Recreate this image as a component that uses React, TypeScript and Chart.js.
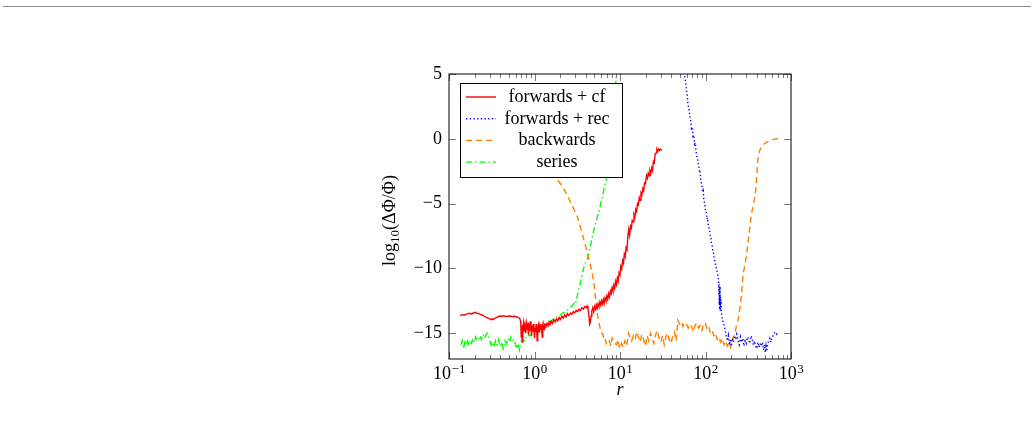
import React, { useEffect, useRef } from "react";
import { Chart, registerables } from "chart.js";

Chart.register(...registerables);

const SERIF = "'Liberation Serif', 'DejaVu Serif', serif";

// Axis ticks
const xTickValues = [0.1, 1, 10, 100, 1000];
const xTickExponents = ["\u22121", "0", "1", "2", "3"];
const yTickValues = [-15, -10, -5, 0, 5];

const seriesLabels = ["forwards + cf", "forwards + rec", "backwards", "series"];

type Pt = [number, number];

// forwards + cf : [r, log10 error]
const forwardsCf: Pt[] = [
  [0.135, -13.65], [0.142, -13.58], [0.15, -13.62], [0.158, -13.55], [0.166, -13.5], [0.175, -13.47],
  [0.184, -13.52], [0.193, -13.45], [0.203, -13.4], [0.213, -13.48], [0.224, -13.5], [0.235, -13.58],
  [0.247, -13.62], [0.26, -13.7], [0.273, -13.78], [0.287, -13.85], [0.3, -13.9], [0.31, -13.98],
  [0.32, -13.88], [0.33, -13.95], [0.345, -13.84], [0.36, -13.8], [0.38, -13.72], [0.4, -13.68],
  [0.42, -13.7], [0.44, -13.66], [0.46, -13.72], [0.49, -13.7], [0.52, -13.68], [0.55, -13.73],
  [0.58, -13.7], [0.61, -13.74], [0.64, -13.78], [0.67, -13.85], [0.69, -14.1], [0.7, -15.3],
  [0.71, -14.4], [0.72, -15.7], [0.73, -14.6], [0.745, -14.2], [0.76, -14.9], [0.775, -14.4],
  [0.79, -15.0], [0.805, -14.3], [0.82, -14.7], [0.835, -14.2], [0.85, -15.1], [0.865, -14.5],
  [0.88, -14.8], [0.895, -14.1], [0.91, -14.6], [0.925, -15.2], [0.94, -14.4], [0.955, -14.9],
  [0.97, -14.3], [0.985, -14.7], [1.0, -15.4], [1.015, -14.6], [1.03, -14.9], [1.045, -14.3],
  [1.06, -14.8], [1.075, -15.6], [1.09, -14.7], [1.11, -14.4], [1.13, -14.9], [1.15, -14.5],
  [1.17, -14.7], [1.19, -14.3], [1.21, -14.6], [1.23, -15.3], [1.25, -14.5], [1.27, -14.7],
  [1.29, -14.4], [1.31, -14.6], [1.33, -14.35], [1.36, -14.45], [1.4, -14.25], [1.44, -14.45],
  [1.48, -14.15], [1.52, -14.35], [1.57, -14.1], [1.62, -14.25], [1.68, -13.95], [1.74, -14.15],
  [1.8, -13.9], [1.87, -14.05], [1.94, -13.8], [2.01, -13.95], [2.09, -13.7], [2.17, -13.85],
  [2.25, -13.6], [2.34, -13.75], [2.43, -13.5], [2.53, -13.65], [2.63, -13.45], [2.73, -13.55],
  [2.84, -13.35], [2.95, -13.45], [3.07, -13.25], [3.19, -13.35], [3.32, -13.15], [3.45, -13.25],
  [3.58, -13.05], [3.72, -13.15], [3.86, -12.95], [4.0, -13.05], [4.12, -12.9], [4.22, -13.15],
  [4.32, -13.6], [4.42, -14.3], [4.5, -14.15], [4.58, -13.7], [4.68, -13.3], [4.8, -13.05],
  [4.92, -13.35], [5.04, -12.95], [5.16, -13.15], [5.28, -12.85], [5.4, -13.1], [5.53, -12.75],
  [5.66, -12.95], [5.8, -12.6], [5.94, -12.85], [6.08, -12.5], [6.23, -12.75], [6.38, -12.4],
  [6.53, -12.7], [6.69, -12.3], [6.85, -12.5], [7.01, -12.15], [7.18, -12.4], [7.35, -11.95],
  [7.53, -12.2], [7.71, -11.75], [7.89, -11.95], [8.08, -11.5], [8.27, -11.75], [8.47, -11.3],
  [8.67, -11.55], [8.88, -11.0], [9.09, -11.25], [9.31, -10.75], [9.53, -11.0], [9.76, -10.35],
  [9.99, -10.5], [10.23, -9.85], [10.47, -10.05], [10.72, -9.4], [10.98, -9.6], [11.24, -8.9],
  [11.51, -9.1], [11.78, -8.4], [12.06, -8.55], [12.35, -7.5], [12.65, -7.0], [12.95, -7.45],
  [13.26, -6.75], [13.58, -6.9], [13.9, -6.3], [14.23, -6.4], [14.57, -5.85], [14.92, -6.05],
  [15.28, -5.45], [15.65, -5.6], [16.02, -5.0], [16.4, -5.1], [16.8, -4.55], [17.2, -4.75],
  [17.6, -4.2], [18.0, -4.35], [18.5, -3.85], [18.9, -4.0], [19.4, -3.4], [19.9, -3.45],
  [20.4, -2.85], [20.9, -3.05], [21.4, -2.65], [21.9, -2.85], [22.4, -2.45], [22.9, -2.65],
  [23.5, -2.25], [24.0, -2.45], [24.6, -1.75], [25.2, -1.85], [25.8, -1.15], [26.4, -1.1],
  [27.0, -0.8], [27.7, -0.95], [28.3, -0.8], [29.0, -0.9], [29.7, -0.8], [30.4, -0.85], [31.0, -0.85],
];

// forwards + rec
const forwardsRec: Pt[] = [
  [55, 5.4], [57, 4.9], [59, 4.2], [61, 3.4], [62.5, 2.6], [64, 2.4], [65.5, 1.7], [67, 1.5],
  [68.5, 0.8], [70, 0.9], [71.5, 0.2], [73, 0.3], [74.5, -0.4], [76, -0.3], [77.5, -1.0], [79, -1.3],
  [80.5, -1.5], [82, -1.9], [83.5, -2.0], [85, -2.6], [86.5, -2.5], [88, -3.2], [89.5, -3.4],
  [91, -3.6], [92.5, -4.1], [94, -4.0], [95.5, -4.7], [97, -4.9], [98.5, -5.2], [100, -5.6],
  [102, -5.6], [104, -6.2], [106, -6.1], [108, -6.8], [110, -6.9], [112, -7.1], [114, -7.6],
  [116, -7.7], [118, -8.2], [120, -8.3], [122, -8.7], [124, -8.8], [126, -9.2], [128, -9.4],
  [130, -9.6], [132, -9.9], [134, -10.0], [137, -10.3], [139, -10.5], [141, -10.7], [143, -11.4],
  [144, -12.0], [144.5, -11.2], [145, -12.8], [145.5, -11.6], [146, -13.2], [146.5, -11.9],
  [147, -12.6], [148, -11.4], [149, -13.3], [150, -12.2], [151, -13.0], [152, -12.4], [154, -13.5],
  [157, -13.9], [160, -14.1], [164, -14.3], [168, -14.6], [172, -15.0], [176, -15.3], [180, -15.6],
  [185, -15.2], [190, -15.9], [195, -15.5], [200, -16.0], [206, -15.4], [212, -15.7], [218, -15.2],
  [225, -15.5], [232, -15.1], [240, -15.6], [248, -15.9], [256, -15.3], [264, -15.7], [273, -15.4],
  [282, -16.0], [291, -15.6], [300, -15.8], [310, -15.3], [320, -15.5], [330, -15.8], [340, -15.2],
  [351, -15.4], [362, -15.9], [373, -15.6], [385, -16.0], [397, -16.2], [410, -15.7], [423, -16.1],
  [436, -15.8], [450, -16.0], [464, -15.7], [478, -16.3], [490, -15.9], [500, -16.5], [510, -16.0],
  [520, -16.4], [535, -15.8], [550, -15.6], [565, -15.4], [580, -15.7], [600, -15.3], [620, -15.2],
  [640, -15.0], [660, -14.9], [685, -15.1], [711, -14.95],
];

// backwards
const backwards: Pt[] = [
  [0.9, 0.0], [1.1, -0.6], [1.3, -1.3], [1.5, -2.0], [1.74, -2.9], [2.0, -3.45], [2.3, -4.1],
  [2.6, -4.8], [2.85, -5.35], [3.1, -5.85], [3.35, -6.5], [3.57, -7.2], [3.8, -7.85], [4.0, -8.4],
  [4.25, -9.1], [4.5, -9.75], [4.7, -10.3], [4.9, -10.95], [5.1, -11.9], [5.3, -12.9], [5.55, -13.9],
  [5.8, -14.5], [6.0, -14.9], [6.3, -15.1], [6.5, -15.5], [6.7, -15.4], [6.9, -15.8], [7.2, -15.5],
  [7.5, -15.6], [7.8, -16.0], [8.1, -15.4], [8.4, -15.7], [8.8, -15.8], [9.1, -15.9], [9.5, -15.5],
  [9.9, -16.2], [10.4, -15.8], [10.9, -16.1], [11.4, -15.6], [12.0, -16.0], [12.6, -15.0],
  [13.1, -15.3], [13.7, -15.6], [14.3, -15.2], [15.0, -15.5], [15.7, -14.9], [16.4, -15.3],
  [17.2, -15.7], [18.0, -15.1], [18.9, -15.5], [19.8, -16.0], [20.7, -15.2], [21.7, -15.6],
  [22.7, -15.0], [23.8, -15.4], [24.9, -15.8], [26.1, -15.1], [27.3, -14.8], [28.6, -15.4],
  [30.0, -15.7], [31.4, -15.2], [32.9, -15.9], [34.4, -15.3], [36.0, -15.0], [37.7, -15.5],
  [39.5, -15.8], [41.4, -15.2], [43.3, -14.9], [45.4, -15.6], [47.5, -14.0], [49.8, -14.3],
  [52.1, -14.1], [54.6, -14.5], [57.2, -14.2], [59.9, -14.3], [62.7, -14.6], [65.7, -14.3],
  [68.8, -14.5], [72.0, -14.9], [75.4, -14.4], [79.0, -14.2], [82.7, -14.6], [86.6, -14.4],
  [90.7, -14.8], [95.0, -14.3], [99.5, -14.2], [104, -14.7], [109, -14.5], [114, -15.0], [120, -14.8],
  [125, -15.2], [131, -15.0], [137, -15.5], [143, -15.3], [150, -15.7], [157, -15.4], [164, -15.9],
  [172, -15.6], [180, -16.0], [188, -15.7], [197, -16.1], [206, -15.5], [215, -15.2], [224, -14.8],
  [231, -14.4], [240, -14.0], [248, -13.4], [256, -12.8], [265, -11.8], [276, -10.4], [288, -9.8],
  [300, -9.1], [315, -8.0], [330, -6.8], [345, -5.8], [360, -5.2], [375, -4.6], [390, -3.7],
  [400, -2.6], [410, -1.6], [425, -1.0], [445, -0.7], [475, -0.45], [510, -0.3], [565, -0.15],
  [630, -0.05], [690, 0.0], [745, 0.05],
];

// series
const series: Pt[] = [
  [0.138, -15.9], [0.143, -15.6], [0.148, -16.2], [0.153, -15.7], [0.158, -15.9], [0.164, -15.5],
  [0.17, -16.0], [0.176, -15.6], [0.183, -15.8], [0.19, -15.4], [0.197, -15.7], [0.205, -15.3],
  [0.213, -15.6], [0.222, -15.5], [0.231, -15.2], [0.24, -15.5], [0.25, -15.1], [0.26, -15.4],
  [0.27, -15.2], [0.28, -15.0], [0.29, -15.3], [0.3, -15.6], [0.31, -15.9], [0.32, -15.7],
  [0.335, -16.1], [0.35, -15.6], [0.365, -15.9], [0.38, -15.5], [0.395, -16.0], [0.41, -15.7],
  [0.43, -16.2], [0.45, -15.6], [0.47, -15.8], [0.49, -15.4], [0.51, -15.7], [0.53, -15.3],
  [0.555, -15.6], [0.58, -15.5], [0.6, -15.9], [0.62, -16.2], [0.64, -15.8], [0.665, -16.3],
  [0.69, -15.7], [0.72, -15.5], [0.75, -15.6], [0.78, -15.3], [0.82, -15.4], [0.86, -15.1],
  [0.9, -15.2], [0.95, -15.0], [1.0, -14.95], [1.05, -14.8], [1.1, -14.75], [1.16, -14.6],
  [1.22, -14.5], [1.29, -14.4], [1.36, -14.3], [1.44, -14.15], [1.52, -14.1], [1.61, -14.0],
  [1.7, -13.85], [1.8, -13.8], [1.9, -13.65], [2.0, -13.6], [2.12, -13.45], [2.24, -13.4],
  [2.37, -13.25], [2.5, -13.15], [2.63, -13.0], [2.76, -12.9], [2.9, -12.7], [3.0, -12.8],
  [3.1, -12.4], [3.3, -11.6], [3.5, -10.9], [3.75, -10.0], [4.0, -9.5], [4.25, -9.1], [4.5, -8.3],
  [4.8, -7.4], [5.1, -6.7], [5.4, -6.1], [5.7, -5.6], [6.0, -4.9], [6.3, -4.3], [6.6, -3.6],
  [6.9, -3.2], [7.3, -1.5], [7.7, 0.2], [8.1, 1.9], [8.5, 3.0], [9.0, 4.6], [9.3, 5.6],
];

const toPoints = (pts: Pt[]) => pts.map(([x, y]) => ({ x, y }));

const lineStyles = [
  { color: "#ff0000", width: 1.4, dash: [] as number[] },
  { color: "#0000ff", width: 1.4, dash: [1.3, 2.4] },
  { color: "#ff8000", width: 1.4, dash: [6, 4] },
  { color: "#00ff00", width: 1.4, dash: [6, 3, 1.5, 3] },
];

// Legend box, frame, inward ticks, decade tick labels and axis titles.
const decorations = {
  id: "decorations",
  afterDatasetsDraw(chart: any) {
    const { ctx, chartArea: ca } = chart;
    const bx = Math.round(ca.left) + 11;
    const by = Math.round(ca.top) + 9;
    const bw = 162;
    const bh = 94;
    ctx.save();
    ctx.fillStyle = "#ffffff";
    ctx.fillRect(bx, by, bw, bh);
    ctx.strokeStyle = "#000000";
    ctx.lineWidth = 1;
    ctx.setLineDash([]);
    ctx.strokeRect(bx + 0.5, by + 0.5, bw, bh);
    ctx.font = `18px ${SERIF}`;
    ctx.textAlign = "center";
    ctx.textBaseline = "alphabetic";
    seriesLabels.forEach((label, i) => {
      const cy = by + 14 + i * 21.7;
      const st = lineStyles[i];
      ctx.strokeStyle = st.color;
      ctx.lineWidth = st.width;
      ctx.setLineDash(st.dash);
      ctx.beginPath();
      ctx.moveTo(bx + 6, cy);
      ctx.lineTo(bx + 36, cy);
      ctx.stroke();
      ctx.setLineDash([]);
      ctx.fillStyle = "#000000";
      ctx.fillText(label, bx + 97, cy + 5);
    });
    ctx.restore();
  },
  afterDraw(chart: any) {
    const { ctx, chartArea: ca } = chart;
    const xs = chart.scales.x;
    const ys = chart.scales.y;
    const L = Math.round(ca.left);
    const R = Math.round(ca.right);
    const T = Math.round(ca.top);
    const B = Math.round(ca.bottom);
    ctx.save();
    ctx.setLineDash([]);
    // ticks
    ctx.strokeStyle = "#7a7a7a";
    ctx.lineWidth = 1;
    const vtick = (v: number, len: number) => {
      const px = Math.round(xs.getPixelForValue(v)) + 0.5;
      ctx.beginPath();
      ctx.moveTo(px, B);
      ctx.lineTo(px, B - len);
      ctx.moveTo(px, T);
      ctx.lineTo(px, T + len);
      ctx.stroke();
    };
    xTickValues.forEach((v) => vtick(v, 7));
    xTickValues.slice(0, -1).forEach((d) => {
      for (let m = 2; m <= 9; m++) vtick(d * m, 4);
    });
    yTickValues.forEach((v) => {
      const py = Math.round(ys.getPixelForValue(v)) + 0.5;
      ctx.beginPath();
      ctx.moveTo(L, py);
      ctx.lineTo(L + 7, py);
      ctx.moveTo(R, py);
      ctx.lineTo(R - 7, py);
      ctx.stroke();
    });
    // frame
    ctx.strokeStyle = "#000000";
    ctx.lineWidth = 1;
    ctx.strokeRect(L, T, R - L, B - T);

    // decade labels on the x axis
    ctx.fillStyle = "#000000";
    ctx.textBaseline = "alphabetic";
    ctx.textAlign = "left";
    xTickValues.forEach((v, i) => {
      const px = xs.getPixelForValue(v);
      ctx.font = `18px ${SERIF}`;
      const wBase = ctx.measureText("10").width;
      ctx.font = `13px ${SERIF}`;
      const wExp = ctx.measureText(xTickExponents[i]).width;
      const x0 = px - (wBase + wExp) / 2;
      ctx.font = `18px ${SERIF}`;
      ctx.fillText("10", x0, B + 20);
      ctx.font = `13px ${SERIF}`;
      ctx.fillText(xTickExponents[i], x0 + wBase + 0.5, B + 14);
    });

    // x title
    ctx.font = `italic 18px ${SERIF}`;
    ctx.textAlign = "center";
    ctx.fillText("r", (ca.left + ca.right) / 2, B + 36);

    // y title, rotated
    ctx.translate(L - 54, (ca.top + ca.bottom) / 2 + 4);
    ctx.rotate(-Math.PI / 2);
    ctx.textAlign = "left";
    const parts = [
      { t: "log", size: 18, dy: 0 },
      { t: "10", size: 13, dy: 4 },
      { t: "(\u0394\u03A6/\u03A6)", size: 18, dy: 0 },
    ];
    let total = 0;
    const widths = parts.map((p) => {
      ctx.font = `${p.size}px ${SERIF}`;
      const w = ctx.measureText(p.t).width;
      total += w;
      return w;
    });
    let cx = -total / 2;
    parts.forEach((p, i) => {
      ctx.font = `${p.size}px ${SERIF}`;
      ctx.fillText(p.t, cx, p.dy);
      cx += widths[i];
    });
    ctx.restore();
  },
};

export default function App() {
  const canvasRef = useRef<HTMLCanvasElement | null>(null);

  useEffect(() => {
    document.body.style.margin = "0";
    const canvas = canvasRef.current;
    if (!canvas) return;
    const chart = new Chart(canvas, {
      type: "line",
      data: {
        datasets: [
          { label: seriesLabels[0], data: toPoints(forwardsCf) },
          { label: seriesLabels[1], data: toPoints(forwardsRec) },
          { label: seriesLabels[2], data: toPoints(backwards) },
          { label: seriesLabels[3], data: toPoints(series) },
        ].map((d, i) => ({
          ...d,
          borderColor: lineStyles[i].color,
          borderWidth: lineStyles[i].width,
          borderDash: lineStyles[i].dash,
          pointRadius: 0,
          tension: 0,
          fill: false,
        })),
      },
      options: {
        animation: false,
        responsive: false,
        devicePixelRatio: 1,
        layout: { padding: { left: 382, right: 243, top: 74, bottom: 34 } },
        plugins: { legend: { display: false }, tooltip: { enabled: false } },
        scales: {
          x: {
            type: "logarithmic",
            min: 0.1,
            max: 1000,
            grid: { display: false },
            border: { display: false },
            ticks: { display: false },
            afterBuildTicks: (s: any) => {
              s.ticks = xTickValues.map((value) => ({ value }));
            },
            afterFit: (s: any) => {
              s.height = 40;
            },
          },
          y: {
            type: "linear",
            min: -17,
            max: 5,
            grid: { display: false, drawTicks: false },
            border: { display: false },
            ticks: {
              padding: 7,
              color: "#000000",
              font: { family: SERIF, size: 18 },
              callback: (v: any) => (v < 0 ? "\u2212" + Math.abs(v) : String(v)),
            },
            afterBuildTicks: (s: any) => {
              s.ticks = yTickValues.map((value) => ({ value }));
            },
            afterFit: (s: any) => {
              s.width = 67;
            },
          },
        },
      },
      plugins: [decorations],
    });
    return () => chart.destroy();
  }, []);

  return (
    <div style={{ position: "fixed", left: 0, top: 0, width: 1034, height: 433, background: "#fff" }}>
      <div style={{ position: "absolute", left: 3, top: 6, width: 1028, height: 1, background: "#8a8a8a" }} />
      <canvas ref={canvasRef} width={1034} height={433} style={{ display: "block" }} />
    </div>
  );
}
